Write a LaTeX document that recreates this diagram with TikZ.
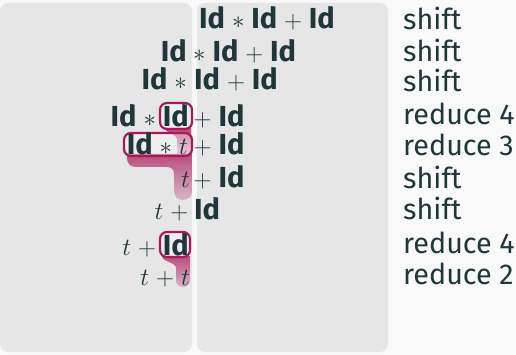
\documentclass[tikz,border=0pt]{standalone}
\usepackage{fontspec}
\setmainfont{Fira Sans}
\definecolor{ink}{HTML}{1F373B}
\definecolor{crim}{HTML}{A8185A}
\definecolor{panel}{HTML}{E6E6E6}
\definecolor{bg}{HTML}{F9F9F9}
\newcommand{\Idb}{\textbf{Id}}
\newcommand{\opsp}{\mskip 5mu}
\newcommand{\setms}{\medmuskip=5mu plus 2mu minus 4mu\relax}
\newcommand{\mth}[1]{$\setms #1$}
\tikzset{
  stk/.style={anchor=base east, inner sep=0pt, text=ink, font=\fontsize{29}{33}\selectfont},
  inp/.style={anchor=base west, inner sep=0pt, text=ink, font=\fontsize{29}{33}\selectfont},
  act/.style={anchor=base west, inner sep=0pt, text=ink, font=\fontsize{28.7}{33}\selectfont},
  panelbox/.style={fill=panel, rounded corners=8pt},
  hlbox/.style={draw=crim, line width=2.2pt, rounded corners=7pt, fill=white, fill opacity=0.35},
  tail/.style={top color=crim!85, bottom color=crim!25!panel, opacity=0.9},
}
\begin{document}
\begin{tikzpicture}[x=1pt,y=-1pt]
\fill[bg] (0,0) rectangle (516,355);
\useasboundingbox (0,0) rectangle (516,355);
% panels
\path[panelbox] (0,3) rectangle (192,352);
\path[panelbox] (197,3) rectangle (388,352);
% tails
\shade[tail] (165,128) -- (191,128) -- (191,156) -- (177,156) -- (177,140) .. controls (177,133) and (165,134) .. (165,128) -- cycle;
\shade[tail] (127,154) -- (192,154) -- (192,192) .. controls (192,198) and (186,200) .. (182,200) .. controls (177,200) and (174,196) .. (174,190) -- (174,174) .. controls (174,169) and (171,167) .. (166,167) -- (136,167) .. controls (130,167) and (127,163) .. (127,158) -- cycle;
\shade[tail] (162,256) -- (190,256) -- (190,280) .. controls (190,285) and (186,287) .. (183,287) .. controls (179,287) and (176,284) .. (176,280) -- (176,268) .. controls (176,262) and (162,262) .. (162,256) -- cycle;
% highlight boxes
\path[hlbox] (160,103) rectangle (192,129);
\path[hlbox] (124,133) rectangle (192,156);
\path[hlbox] (160,232) rectangle (190,257);
% stack column
\node[stk] (s2) at (187,62) {\mth{\Idb}};
\node[stk] (s3) at (187,90) {\mth{\Idb\opsp\mathord{\ast}}};
\node[stk] (s4) at (189,127) {\mth{\Idb\ast\Idb}};
\node[stk] (s5) at (188,155) {\mth{\Idb\ast t}};
\node[stk] (s6) at (190,188) {\mth{t}};
\node[stk] (s7) at (188.5,220) {\mth{t\opsp\mathord{+}}};
\node[stk] (s8) at (189,255) {\mth{t+\Idb}};
\node[stk] (s9) at (190,285) {\mth{t+t}};
% input column
\node[inp] (i1) at (199,29) {\mth{\Idb\ast\Idb+\Idb}};
\node[inp] (i2) at (193,62) {\mth{\mathord{\ast}\opsp\Idb+\Idb}};
\node[inp] (i3) at (194,90) {\mth{\Idb+\Idb}};
\node[inp] (i4) at (193.5,127) {\mth{\mathord{+}\opsp\Idb}};
\node[inp] (i5) at (193.5,155) {\mth{\mathord{+}\opsp\Idb}};
\node[inp] (i6) at (193.5,188) {\mth{\mathord{+}\opsp\Idb}};
\node[inp] (i7) at (194,220) {\mth{\Idb}};
% actions
\node[act] (a1) at (403,30) {shift};
\node[act] (a2) at (403,62) {shift};
\node[act] (a3) at (403,92) {shift};
\node[act] (a4) at (403,125) {reduce 4};
\node[act] (a5) at (403,156) {reduce 3};
\node[act] (a6) at (403,189) {shift};
\node[act] (a7) at (403,220) {shift};
\node[act] (a8) at (403,253) {reduce 4};
\node[act] (a9) at (403,284) {reduce 2};
\end{tikzpicture}
\end{document}
